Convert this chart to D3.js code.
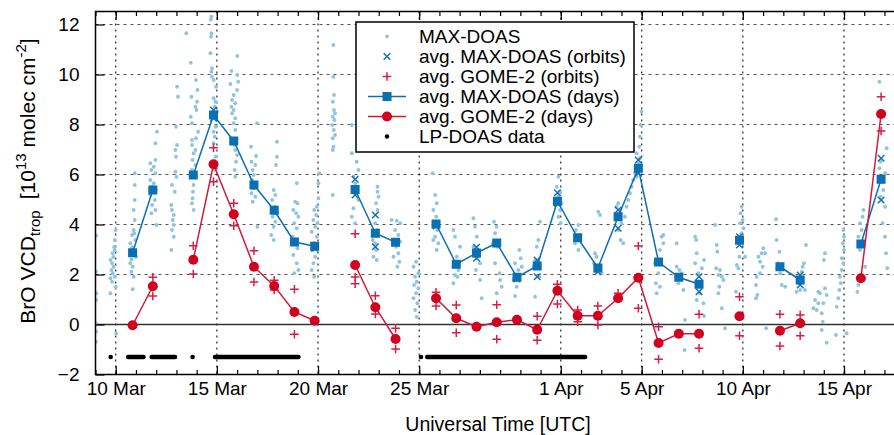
<!DOCTYPE html>
<html>
<head>
<meta charset="utf-8">
<script src="https://cdn.jsdelivr.net/npm/d3@7"></script>
<style>
  body { margin: 0; background: #fff; }
  svg text { font-family: "Liberation Sans", Arial, Helvetica, sans-serif; fill: #000; }
</style>
</head>
<body>
<svg id="chart" width="894" height="435"></svg>
<script>
// ---- data -------------------------------------------------------------
// Time is counted in days from 10 March 2009, 00 UTC.
const campaignStart = Date.UTC(2009, 2, 10);
const axisStart = Date.UTC(2009, 2, 9);
const axisEnd = Date.UTC(2009, 3, 18);
const overpassHour = 20; // UTC time of the GOME-2 overpass used for the averages

// Daily averages, one entry per day from 10 Mar to 16 Apr (null = no data)
const dailyMaxDoas = [2.87, 5.38, null, 5.98, 8.38, 7.34, 5.58, 4.57, 3.30, 3.13,
  null, 5.40, 3.65, 3.29, null, 4.02, 2.41, 2.86, 3.26, 1.89, 2.34, 4.93, 3.47, 2.26,
  4.31, 6.25, 2.50, 1.89, 1.61, null, 3.37, null, 2.31, 1.78, null, null, 3.22, 5.81];
const dailyGome2 = [-0.03, 1.53, null, 2.59, 6.41, 4.41, 2.31, 1.54, 0.50, 0.15,
  null, 2.38, 0.69, -0.58, null, 1.05, 0.25, -0.09, 0.09, 0.19, -0.21, 1.35, 0.35, 0.35,
  1.05, 1.87, -0.74, -0.37, -0.37, null, 0.33, null, -0.25, 0.05, null, null, 1.85, 8.42];

// Averages per satellite orbit: [day index, VCD]
const orbitMaxDoas = [[4, 8.58], [4, 8.25], [9, 3.05], [11, 5.81], [11, 5.18], [12, 4.38],
  [12, 3.11], [15, 3.94], [17, 3.09], [17, 2.65], [19, 1.82], [20, 2.58], [20, 1.91],
  [21, 5.27], [21, 4.85], [23, 2.11], [24, 4.58], [24, 3.85], [25, 6.58], [25, 6.05],
  [28, 1.91], [28, 1.31], [30, 3.51], [30, 3.18], [33, 1.98], [33, 1.58], [37, 6.65], [37, 4.98]];
const orbitGome2 = [[1, 1.89], [1, 1.14], [3, 3.15], [3, 2.02], [4, 7.07], [4, 5.71],
  [5, 4.85], [5, 3.95], [6, 2.95], [6, 1.70], [7, 1.77], [7, 1.38], [8, 1.41], [8, -0.39],
  [11, 3.63], [11, 1.90], [11, 1.63], [12, 1.15], [12, 0.42], [13, -0.15], [13, -0.98],
  [15, 1.29], [15, 0.74], [16, 0.78], [16, -0.33], [18, 0.79], [18, -0.59], [20, 0.33],
  [20, -0.63], [21, 1.61], [21, 0.82], [22, 0.58], [22, 0.11], [23, 0.74], [23, -0.02],
  [24, 1.25], [25, 3.14], [25, 0.65], [26, -0.09], [26, -1.39], [28, 0.41], [28, -0.95],
  [30, 1.11], [30, -0.45], [32, 0.41], [32, -0.86], [33, 0.38], [33, -0.45], [37, 9.11], [37, 7.74]];

// Individual MAX-DOAS measurements: [days since 10 Mar 00 UTC, VCD]
const maxDoas = [
  [-0.97,3.55],[-0.97,2.11],[-0.96,1.25],[-0.97,0.98],[-0.98,0.05],[-0.97,-0.29],[-0.98,-0.69],
  [0.0,3.78],[-0.05,3.38],[-0.05,2.98],[-0.15,2.85],[-0.26,2.58],[-0.18,2.45],[-0.1,2.31],[-0.21,2.18],
  [-0.15,2.05],[-0.05,1.91],[-0.26,1.85],[-0.18,1.71],[0.0,1.51],[-0.26,1.25],[-0.12,2.7],[-0.08,3.1],[0.02,-0.35],
  [0.94,6.05],[0.94,5.58],[0.94,4.98],[0.89,4.58],[0.94,4.18],[0.89,3.78],[0.81,3.58],[0.97,3.38],[0.72,3.25],
  [0.81,3.09],[0.89,2.91],[1.0,2.71],[0.72,2.45],[0.84,2.31],[0.77,2.11],[0.89,1.91],[0.84,1.41],[0.92,3.65],[0.78,2.6],
  [2.04,7.71],[1.96,7.25],[1.96,6.58],[1.71,6.45],[1.88,6.31],[1.76,6.18],[1.96,6.05],[1.71,5.78],[1.88,5.65],
  [1.8,5.51],[1.99,5.38],[1.71,5.18],[1.93,4.98],[1.8,4.78],[1.96,4.58],[1.76,4.45],[2.01,3.98],
  [3.03,9.51],[3.08,9.11],[2.98,7.91],[3.03,7.18],[2.95,6.98],[2.98,6.71],[2.95,6.11],[3.0,5.91],[2.78,5.58],
  [2.92,5.31],[2.75,4.78],[2.78,4.58],[2.87,4.38],[2.82,4.18],[2.87,3.98],[2.78,3.78],[2.87,3.51],[2.75,2.98],
  [3.49,11.65],[3.71,10.47],[3.97,9.78],[3.74,9.11],[4.04,9.38],[4.02,8.91],[3.94,8.71],[3.99,8.58],[3.71,8.31],
  [3.77,8.05],[4.07,7.71],[3.77,7.38],[3.97,7.45],[3.77,7.18],[3.94,6.98],[3.85,6.85],[3.8,6.58],[3.94,6.38],
  [3.77,6.18],[3.85,5.58],[3.82,5.31],[3.8,5.05],[3.77,4.85],[3.85,4.58],
  [4.73,12.31],[4.7,12.2],[4.73,11.65],[4.71,11.51],[4.68,10.85],[4.76,10.25],[4.73,10.11],[4.76,9.91],[4.84,9.78],
  [4.96,9.51],[4.84,9.05],[4.93,8.91],[4.89,8.71],[5.01,8.51],[4.93,7.91],[4.84,7.71],[4.89,7.51],[4.84,7.25],
  [4.93,6.71],[4.89,6.18],
  [6.01,10.74],[5.72,10.14],[6.01,9.98],[5.67,9.62],[6.05,9.71],[6.0,9.38],[5.83,9.18],[5.75,8.98],[5.91,8.85],
  [5.72,8.71],[5.83,8.58],[5.75,8.45],[5.91,8.25],[5.83,8.05],[5.91,7.78],[5.88,7.18],[5.91,6.98],[6.0,6.78],
  [5.95,6.51],[5.88,6.18],[5.91,5.91],
  [6.99,8.05],[6.69,7.11],[6.94,6.74],[6.71,6.51],[6.9,6.38],[6.77,6.18],[6.82,5.98],[6.74,5.78],[6.9,5.65],
  [6.82,5.45],[6.71,5.25],[6.9,5.11],[6.77,4.91],[7.0,3.91],
  [7.97,7.31],[7.97,6.71],[7.92,6.38],[7.81,5.38],[7.89,5.18],[7.73,4.98],[7.86,4.71],[7.97,4.45],[7.76,4.31],
  [7.89,4.11],[7.81,3.91],[7.69,3.58],[7.81,3.38],
  [8.95,5.65],[8.87,4.91],[8.98,4.85],[8.78,4.58],[8.92,4.45],[9.03,4.31],[8.82,4.05],[8.95,3.85],[8.75,3.51],
  [8.87,3.25],[8.98,3.05],[8.78,2.78],[8.95,2.45],[9.03,2.18],[8.82,2.05],
  [10.07,6.05],[10.02,5.65],[10.02,5.05],[9.94,4.71],[9.81,4.58],[9.9,4.38],[9.77,4.18],[9.97,4.05],[9.86,3.91],
  [9.69,3.71],[9.94,3.51],[9.81,3.25],[9.74,2.98],[9.86,2.71],[9.77,2.45],[9.69,2.18],[9.81,1.91],
  [10.76,11.18],[10.76,9.91],[10.79,9.18],[10.73,8.91],[10.79,8.58],[10.84,8.45],[10.73,8.31],[10.81,8.18],
  [10.7,7.98],[10.78,7.78],[10.84,7.58],[10.73,7.45],[10.76,7.11],[10.73,6.98],[10.73,5.18],
  [11.67,7.98],[11.67,6.85],[11.91,6.51],[12.0,6.18],[11.75,5.91],[11.83,5.65],[11.91,5.25],[12.0,4.98],
  [11.75,4.65],[11.67,4.31],[11.83,4.05],
  [12.94,5.51],[12.94,5.31],[12.99,5.11],[12.87,4.85],[12.94,4.58],[12.82,4.05],[12.94,3.78],[12.71,3.38],
  [12.82,3.25],[12.87,2.98],[12.74,2.71],[12.9,2.58],
  [13.64,4.18],[13.89,4.15],[14.06,4.05],[13.81,3.78],[13.97,3.58],[13.69,3.38],[14.06,3.31],[13.86,3.11],
  [13.97,2.85],[13.73,2.71],[14.02,2.51],[13.92,2.31],
  [14.85,2.51],[14.72,2.31],[14.96,2.05],[14.8,1.91],[14.88,1.71],[14.75,1.58],[14.96,1.45],[14.85,1.25],
  [14.72,1.05],[14.91,0.85],[14.8,0.58],[14.88,0.31],
  [15.67,6.05],[15.79,5.18],[15.87,4.85],[15.7,4.58],[15.84,4.31],[15.74,4.05],[15.9,3.78],[15.79,3.51],
  [15.95,3.25],[15.7,3.38],[15.87,2.98],
  [16.69,3.78],[16.77,3.51],[17.02,3.11],[16.86,2.71],[16.69,2.31],[16.94,2.18],[16.77,1.98],[16.69,1.65],[16.89,1.91],
  [17.68,4.25],[17.76,3.91],[17.85,3.51],[17.68,3.11],[17.93,2.71],[18.01,2.45],[18.09,1.05],[17.81,2.18],[18.01,1.78],
  [18.7,4.11],[18.83,3.91],[18.75,3.65],[18.64,3.25],[18.87,3.11],[18.75,2.45],[18.97,2.05],[19.08,1.51],
  [18.83,1.25],[19.0,1.78],
  [19.95,2.98],[20.02,2.65],[19.74,2.45],[19.9,2.18],[19.66,1.78],[19.82,1.51],[19.74,1.14],[20.07,2.31],
  [20.97,4.11],[20.89,3.38],[20.81,3.11],[20.73,2.58],[20.65,2.31],[20.73,1.11],[20.94,1.91],
  [21.88,5.91],[21.8,5.51],[21.96,5.31],[21.88,5.11],[22.04,4.85],[21.96,4.58],[21.88,4.31],[21.99,4.05],
  [22.78,3.51],[22.7,3.25],[22.87,2.98],[22.87,3.98],[22.75,3.78],
  [23.85,4.51],[23.94,4.38],[23.69,2.85],[23.77,2.71],[23.64,2.45],[23.85,2.31],[23.74,2.11],[24.02,2.05],
  [24.84,4.85],[24.76,4.71],[24.92,4.58],[24.76,4.25],[25.0,4.05],[24.84,3.78],[24.96,3.38],[25.09,3.25],
  [25.99,8.51],[25.95,7.98],[25.91,7.51],[25.88,7.11],[25.75,6.85],[25.91,6.65],[25.83,6.45],[25.67,6.05],
  [25.58,5.78],[25.5,5.51],[25.75,5.91],[25.42,5.25],[25.34,4.98],[25.25,4.71],[25.17,4.31],
  [26.98,3.51],[27.07,3.25],[26.9,2.98],[26.65,2.45],[26.82,2.05],[26.7,1.65],[26.74,1.25],[27.07,3.58],[26.9,1.51],
  [27.73,2.31],[27.86,2.18],[27.97,2.05],[27.81,1.65],[28.06,1.38],[28.14,0.18],[28.12,-1.02],[27.73,3.25],
  [28.64,3.51],[28.69,3.38],[28.72,2.85],[28.64,2.45],[29.08,2.58],[28.97,2.25],[28.8,2.05],[28.88,1.25],
  [28.72,0.98],[29.05,0.85],[29.08,0.34],
  [29.63,3.98],[29.71,3.18],[29.74,2.91],[29.68,2.25],[29.87,2.18],[29.79,1.98],[29.96,1.91],[30.04,1.78],
  [29.84,1.51],[29.79,1.25],[29.96,0.65],[30.12,-0.15],
  [30.94,4.71],[30.89,4.45],[30.99,4.18],[30.86,4.05],[31.03,3.85],[30.94,3.65],[30.78,3.25],[30.83,2.71],
  [30.7,2.38],[30.78,2.25],[31.11,2.71],[30.66,1.31],
  [32.01,3.05],[31.93,2.85],[31.77,2.71],[31.85,2.51],[31.98,2.31],[32.1,2.85],[31.68,1.91],[31.85,2.05],
  [31.65,1.58],[31.72,1.18],[31.65,1.05],[32.15,-0.15],
  [32.64,4.21],[32.67,3.38],[32.81,2.91],[32.71,2.25],[32.84,2.05],[32.92,1.58],[33.09,1.51],[32.76,2.45],
  [34.12,3.18],[34.02,2.45],[33.96,2.31],[33.91,2.11],[33.83,1.91],[33.75,1.65],[33.66,1.31],[33.83,1.38],[34.07,1.38],
  [35.06,2.85],[35.01,2.58],[34.73,1.31],[34.81,1.25],[35.06,1.45],[35.14,1.18],[34.57,0.98],[34.73,0.85],
  [34.98,0.85],[34.9,0.45],[34.65,0.58],[34.95,0.11],[34.9,-0.22],[35.14,-0.73],[34.49,0.65],
  [35.97,3.78],[36.0,3.51],[35.94,3.25],[36.0,2.98],[35.89,2.65],[35.97,2.45],[35.89,2.18],[35.8,1.91],
  [35.84,1.65],[35.77,1.38],[35.72,1.05],[35.64,0.71],[36.13,-0.35],[35.6,-0.42],
  [36.96,4.58],[36.92,4.31],[36.79,4.05],[36.87,3.78],[36.71,3.51],[36.79,2.98],[37.04,2.31],[36.71,1.58],[36.66,1.31],
  [37.75,9.71],[38.11,7.05],[37.81,6.51],[37.75,6.25],[38.03,6.05],[37.86,5.71],[37.94,5.38],[37.81,5.11],
  [38.03,4.71],[37.91,4.05],[38.03,3.51],[38.08,2.85],[38.14,2.25]
];

// Periods with LP-DOAS data available: [start, end] in days since 10 Mar 00 UTC
const lpDoasPeriods = [[-0.25, -0.25], [0.62, 1.37], [1.78, 2.93], [3.80, 3.80],
  [4.91, 9.03], [15.09, 15.09], [15.4, 23.2]];
const lpDoasLevel = -1.3;

const xTickDates = [Date.UTC(2009,2,10), Date.UTC(2009,2,15), Date.UTC(2009,2,20), Date.UTC(2009,2,25),
  Date.UTC(2009,3,1), Date.UTC(2009,3,5), Date.UTC(2009,3,10), Date.UTC(2009,3,15)];
const xTickLabels = ["10 Mar", "15 Mar", "20 Mar", "25 Mar", "1 Apr", "5 Apr", "10 Apr", "15 Apr"];
const yTicks = [-2, 0, 2, 4, 6, 8, 10, 12];
const yGrid = [2, 4, 6, 8, 10, 12];

const legendItems = ["MAX-DOAS", "avg. MAX-DOAS (orbits)", "avg. GOME-2 (orbits)",
  "avg. MAX-DOAS (days)", "avg. GOME-2 (days)", "LP-DOAS data"];

// ---- styling ------------------------------------------------------------
const C = {
  dot: "#8fc3e0",
  blue: "#0a6fb3",
  blueX: "#1670b0",
  red: "#d0021f",
  redLine: "#d01a3a",
  redPlus: "#d91c44"
};

// ---- scales ---------------------------------------------------------------
const L = 95.5, R = 904.7, T = 11.5, B = 374.5;
const x = d3.scaleUtc().domain([new Date(axisStart), new Date(axisEnd)]).range([L, R]);
const y = d3.scaleLinear().domain([-2, 12.5]).range([B, 12]);
const dayTime = t => new Date(campaignStart + t * 864e5);
const dailyTime = i => dayTime(i + overpassHour / 24);

const svg = d3.select("#chart");

svg.append("defs").append("clipPath").attr("id", "plot-clip")
  .append("rect").attr("x", L).attr("y", T).attr("width", R - L).attr("height", B - T);

// grid
const grid = svg.append("g");
grid.selectAll("line.h").data(yGrid).join("line")
  .attr("x1", L).attr("x2", R).attr("y1", d => y(d)).attr("y2", d => y(d))
  .attr("stroke", "#555").attr("stroke-width", 1.1).attr("stroke-dasharray", "3,4");
grid.selectAll("line.v").data(xTickDates).join("line")
  .attr("x1", d => x(d)).attr("x2", d => x(d)).attr("y1", T).attr("y2", B)
  .attr("stroke", "#111").attr("stroke-width", 1.1).attr("stroke-dasharray", "2,4");
grid.append("line").attr("x1", L).attr("x2", R).attr("y1", y(0)).attr("y2", y(0))
  .attr("stroke", "#333").attr("stroke-width", 1.3);

const plot = svg.append("g").attr("clip-path", "url(#plot-clip)");

// individual MAX-DOAS measurements
plot.append("g").selectAll("circle").data(maxDoas).join("circle")
  .attr("cx", d => x(dayTime(d[0]))).attr("cy", d => y(d[1])).attr("r", 1.9)
  .attr("fill", C.dot);

// orbit averages
const xMark = s => `M${-s},${-s}L${s},${s}M${-s},${s}L${s},${-s}`;
const plusMark = s => `M${-s},0L${s},0M0,${-s}L0,${s}`;
plot.append("g").selectAll("path").data(orbitMaxDoas).join("path")
  .attr("transform", d => `translate(${x(dailyTime(d[0]))},${y(d[1])})`)
  .attr("d", xMark(3.3)).attr("stroke", C.blueX).attr("stroke-width", 1.5).attr("fill", "none");
plot.append("g").selectAll("path").data(orbitGome2).join("path")
  .attr("transform", d => `translate(${x(dailyTime(d[0]))},${y(d[1])})`)
  .attr("d", plusMark(4.3)).attr("stroke", C.redPlus).attr("stroke-width", 1.5).attr("fill", "none");

// daily averages
const dailyLine = d3.line().defined(d => d != null)
  .x((d, i) => x(dailyTime(i))).y(d => y(d));

plot.append("path").datum(dailyMaxDoas).attr("d", dailyLine)
  .attr("fill", "none").attr("stroke", C.blue).attr("stroke-width", 1.5);
plot.append("g").selectAll("rect")
  .data(dailyMaxDoas.map((v, i) => [i, v]).filter(d => d[1] != null)).join("rect")
  .attr("x", d => x(dailyTime(d[0])) - 4.5).attr("y", d => y(d[1]) - 4.5)
  .attr("width", 9).attr("height", 9).attr("fill", C.blue);

plot.append("path").datum(dailyGome2).attr("d", dailyLine)
  .attr("fill", "none").attr("stroke", C.redLine).attr("stroke-width", 1.5);
plot.append("g").selectAll("circle")
  .data(dailyGome2.map((v, i) => [i, v]).filter(d => d[1] != null)).join("circle")
  .attr("cx", d => x(dailyTime(d[0]))).attr("cy", d => y(d[1])).attr("r", 5)
  .attr("fill", C.red);

// LP-DOAS availability
plot.append("g").selectAll("rect").data(lpDoasPeriods).join("rect")
  .attr("x", d => x(dayTime(d[0])) - 2.3).attr("y", y(lpDoasLevel) - 2.3)
  .attr("width", d => x(dayTime(d[1])) - x(dayTime(d[0])) + 4.6).attr("height", 4.6)
  .attr("rx", 2.3).attr("fill", "#000");

// axes: inward ticks, daily minor ticks
const minorDays = d3.utcDay.range(new Date(axisStart), new Date(axisEnd + 1));
const majorDays = xTickDates.map(d => new Date(d));
const axisB = svg.append("g").attr("transform", `translate(0,${B})`);
axisB.append("g").call(d3.axisBottom(x).tickValues(minorDays).tickSize(-4.5).tickFormat(""));
axisB.append("g").call(d3.axisBottom(x).tickValues(majorDays)
  .tickSize(-8.5).tickPadding(7).tickFormat((d, i) => xTickLabels[i]));
const axisT = svg.append("g").attr("transform", `translate(0,${T})`);
axisT.append("g").call(d3.axisTop(x).tickValues(minorDays).tickSize(-4.5).tickFormat(""));
axisT.append("g").call(d3.axisTop(x).tickValues(majorDays).tickSize(-8.5).tickFormat(""));
const axisL = svg.append("g").attr("transform", `translate(${L},0)`);
axisL.call(d3.axisLeft(y).tickValues(yTicks).tickSize(-9).tickPadding(16));

svg.selectAll(".domain").remove();
svg.selectAll(".tick line").attr("stroke", "#000").attr("stroke-width", 1.2);
svg.selectAll(".tick text").attr("font-size", 19).attr("font-family", null);

// frame
svg.append("rect").attr("x", L).attr("y", T).attr("width", R - L).attr("height", B - T)
  .attr("fill", "none").attr("stroke", "#000").attr("stroke-width", 1.5);

// axis titles
svg.append("text").attr("x", 498).attr("y", 431)
  .attr("text-anchor", "middle").attr("font-size", 19.5).text("Universal Time [UTC]");

const yt = svg.append("text").attr("transform", "translate(35,181) rotate(-90)")
  .attr("text-anchor", "middle").attr("font-size", 21);
yt.append("tspan").text("BrO VCD");
yt.append("tspan").attr("font-size", 15).attr("dy", 5).text("trop");
yt.append("tspan").attr("dy", -5).attr("dx", 11).text("[10");
yt.append("tspan").attr("font-size", 15).attr("dy", -9).text("13");
yt.append("tspan").attr("dy", 9).attr("dx", 6).text("molec cm");
yt.append("tspan").attr("font-size", 15).attr("dy", -9).text("-2");
yt.append("tspan").attr("dy", 9).text("]");

// legend
const lg = svg.append("g");
lg.append("rect").attr("x", 356).attr("y", 22).attr("width", 278).attr("height", 130)
  .attr("fill", "#fff").attr("stroke", "#000").attr("stroke-width", 1.5);
const rowY = i => 36.5 + i * 20;
const sx = 387;
lg.selectAll("text").data(legendItems).join("text")
  .attr("x", 419).attr("y", (d, i) => rowY(i)).attr("dy", "0.36em")
  .attr("font-size", 19).text(d => d);
lg.append("circle").attr("cx", sx).attr("cy", rowY(0)).attr("r", 1.9).attr("fill", C.dot);
lg.append("path").attr("transform", `translate(${sx},${rowY(1)})`).attr("d", xMark(3.3))
  .attr("stroke", C.blueX).attr("stroke-width", 1.5);
lg.append("path").attr("transform", `translate(${sx},${rowY(2)})`).attr("d", plusMark(4.3))
  .attr("stroke", C.redPlus).attr("stroke-width", 1.5);
lg.append("line").attr("x1", 368).attr("x2", 406).attr("y1", rowY(3)).attr("y2", rowY(3))
  .attr("stroke", C.blue).attr("stroke-width", 1.5);
lg.append("rect").attr("x", sx - 4.5).attr("y", rowY(3) - 4.5).attr("width", 9).attr("height", 9)
  .attr("fill", C.blue);
lg.append("line").attr("x1", 368).attr("x2", 406).attr("y1", rowY(4)).attr("y2", rowY(4))
  .attr("stroke", C.redLine).attr("stroke-width", 1.5);
lg.append("circle").attr("cx", sx).attr("cy", rowY(4)).attr("r", 5).attr("fill", C.red);
lg.append("circle").attr("cx", sx).attr("cy", rowY(5)).attr("r", 2.2).attr("fill", "#000");
</script>
</body>
</html>
